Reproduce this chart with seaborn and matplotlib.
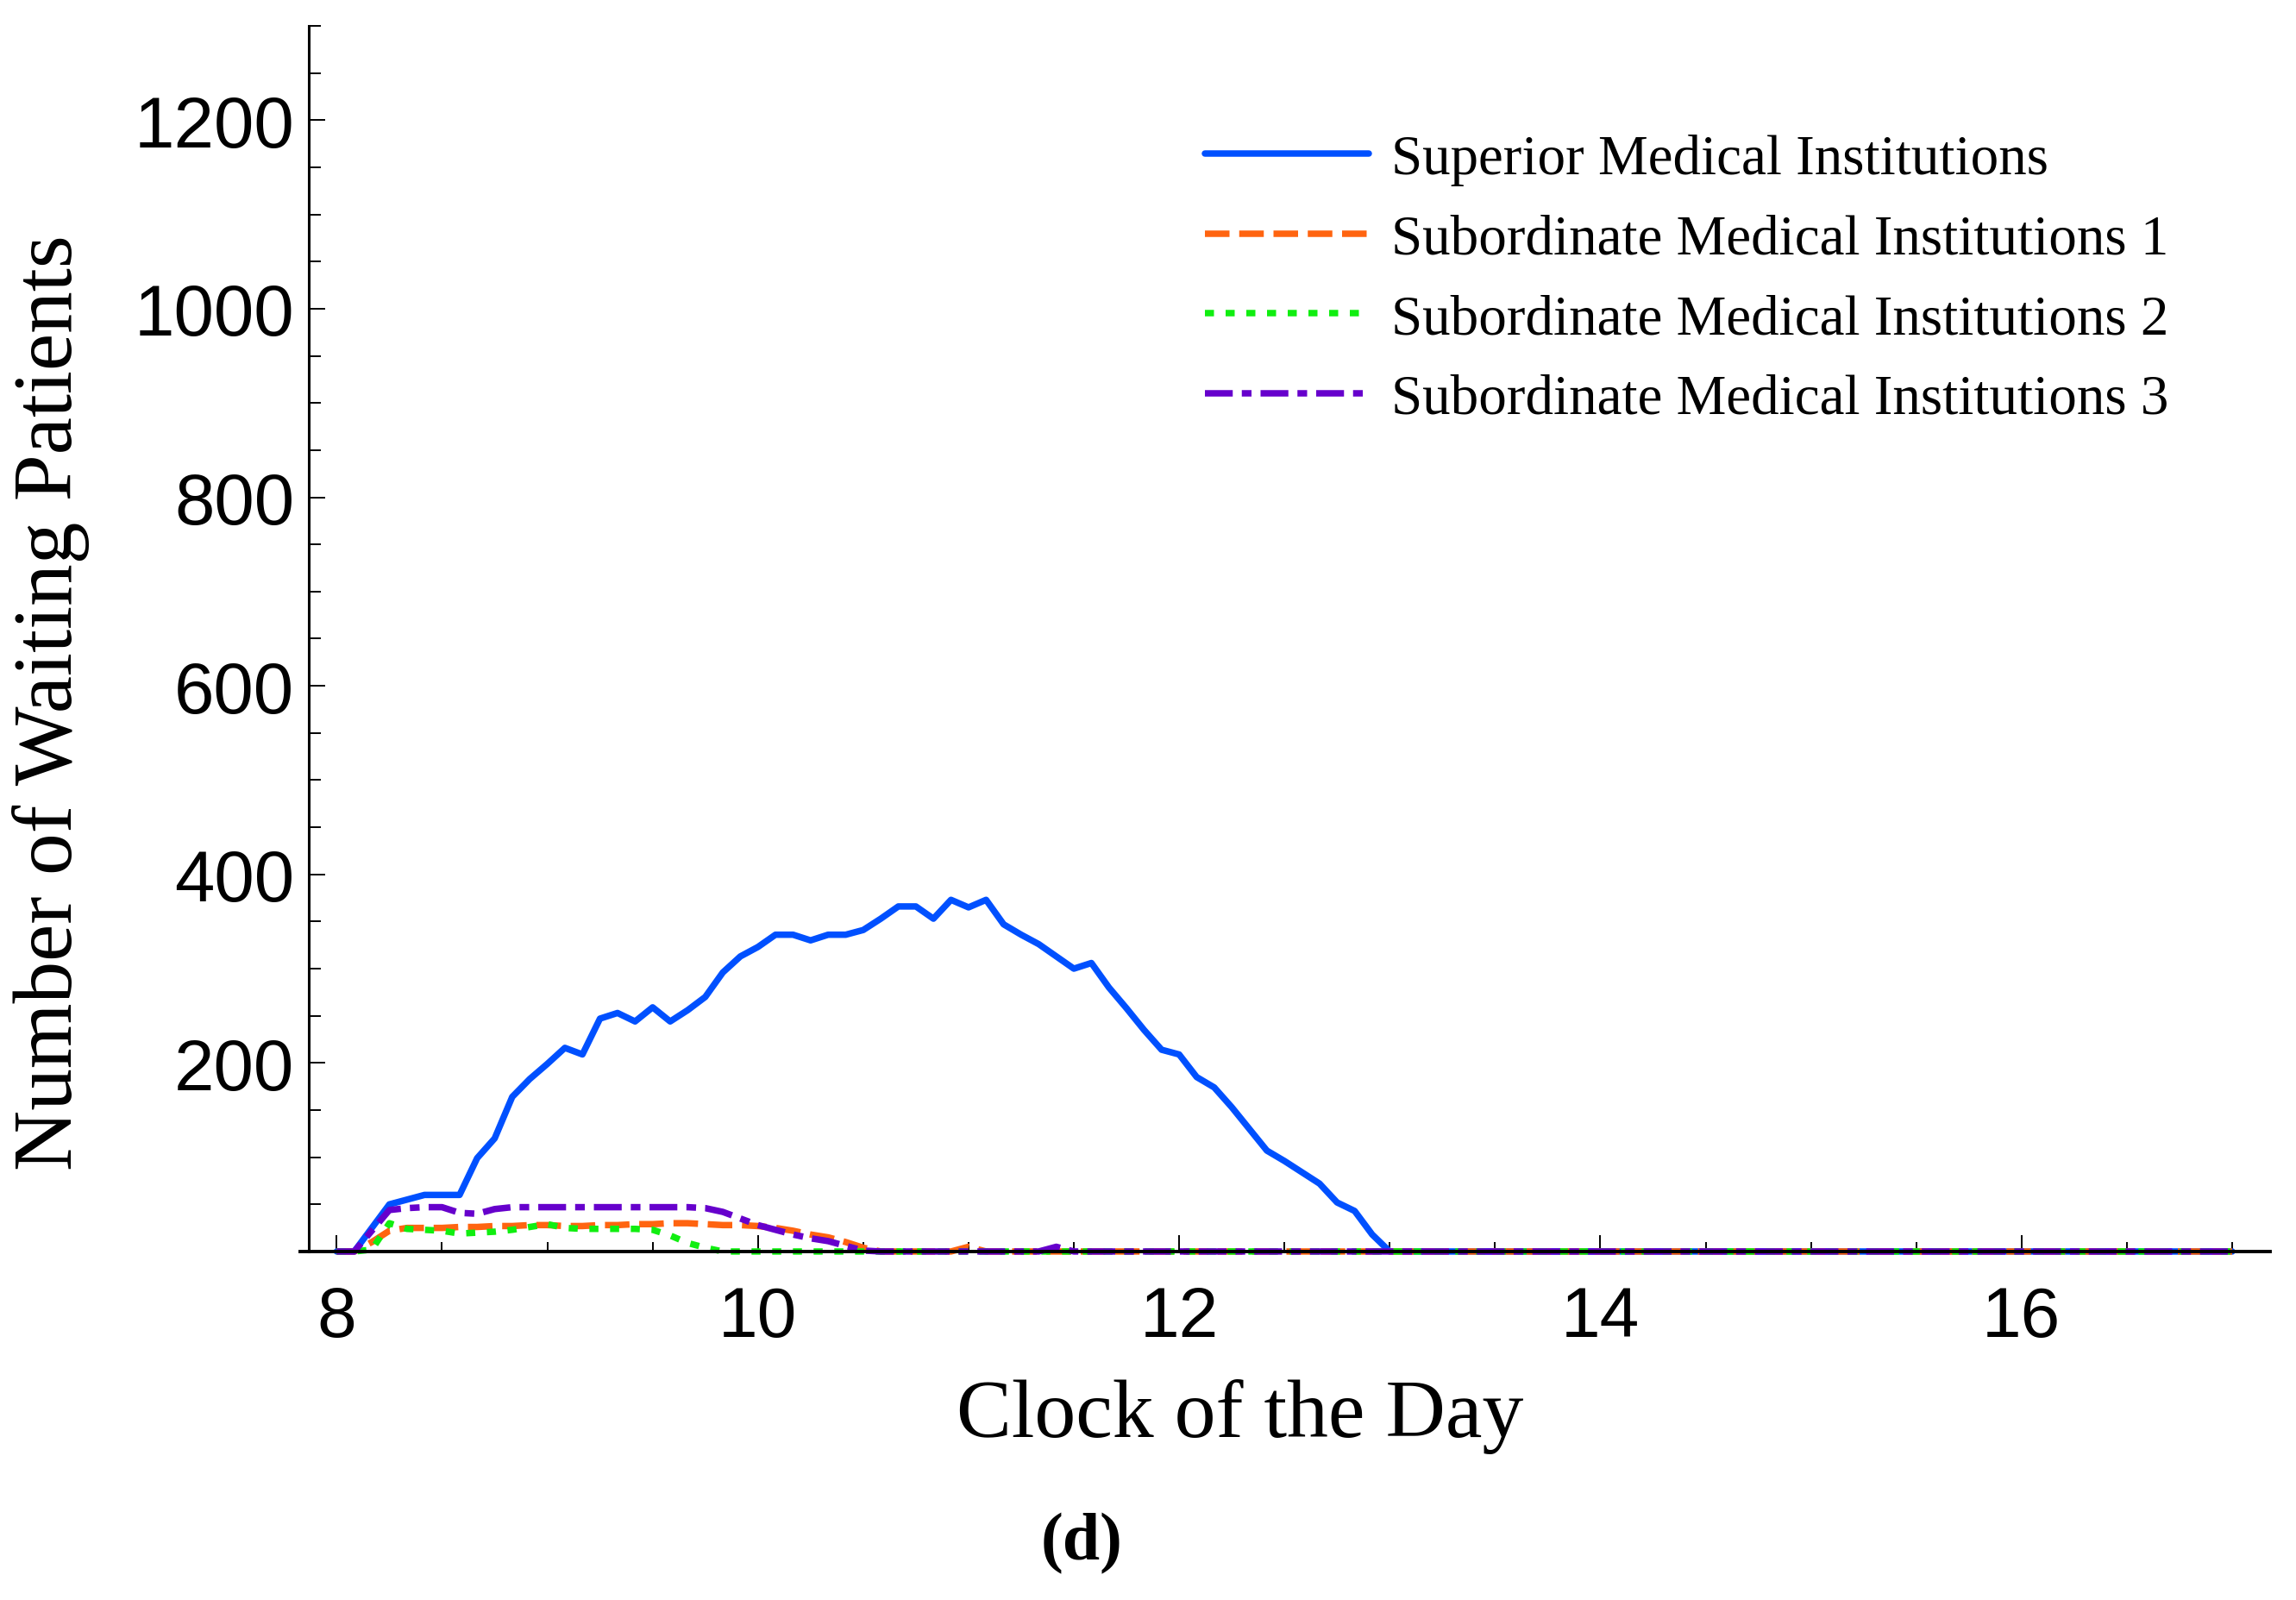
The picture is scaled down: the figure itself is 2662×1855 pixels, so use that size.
import matplotlib
matplotlib.use('Agg')
import matplotlib.pyplot as plt
from matplotlib.ticker import MultipleLocator
import seaborn as sns

# time grid: 8:00 to 13:00 every 5 minutes, then 17:00
minutes = list(range(0, 305, 5)) + [540]
clock = [8 + m / 60 for m in minutes]

superior = [0, 0, 25, 50, 55, 60, 60, 60, 99, 120,
            164, 183, 199, 216, 209, 247, 253, 244, 259, 244,
            256, 270, 296, 313, 323, 336, 336, 330, 336, 336,
            341, 353, 366, 366, 353, 373, 365, 373, 347, 336,
            326, 313, 300, 306, 280, 258, 235, 214, 209, 185,
            174, 153, 130, 107, 96, 84, 72, 52, 43, 18,
            0, 0]
sub1 = [0, 0, 10, 22, 25, 25, 25, 26, 26, 27,
        27, 28, 28, 27, 27, 28, 28, 29, 29, 30,
        30, 29, 28, 28, 27, 25, 22, 18, 15, 10,
        4, 0, 0, 0, 0, 0, 5, 0, 0, 0,
        0, 0, 0, 0, 0, 0, 0, 0, 0, 0,
        0, 0, 0, 0, 0, 0, 0, 0, 0, 0,
        0, 0]
sub2 = [0, 0, 2, 30, 24, 23, 22, 19, 20, 21,
        23, 26, 29, 25, 24, 24, 24, 24, 23, 17,
        9, 4, 0, 0, 0, 0, 0, 0, 0, 0,
        0, 0, 0, 0, 0, 0, 0, 0, 0, 0,
        0, 0, 0, 0, 0, 0, 0, 0, 0, 0,
        0, 0, 0, 0, 0, 0, 0, 0, 0, 0,
        0, 0]
sub3 = [0, 0, 22, 44, 46, 47, 47, 41, 40, 45,
        47, 47, 47, 47, 47, 47, 47, 47, 47, 47,
        47, 46, 42, 35, 28, 23, 18, 14, 11, 6,
        1, 0, 0, 0, 0, 0, 0, 0, 0, 0,
        0, 5, 0, 0, 0, 0, 0, 0, 0, 0,
        0, 0, 0, 0, 0, 0, 0, 0, 0, 0,
        0, 0]

names = ['Superior Medical Institutions',
         'Subordinate Medical Institutions 1',
         'Subordinate Medical Institutions 2',
         'Subordinate Medical Institutions 3']
colors = ['#0050ff', '#ff6410', '#10ee10', '#6600cc']
styles = ['-', (0, (3.8, 1.5)), (0, (1.4, 1.8)), (0, (4.3, 1.4, 1.5, 1.4))]

sns.set_theme(style='white')
plt.rcParams['font.family'] = ['Liberation Serif', 'DejaVu Serif']
plt.rcParams['text.color'] = 'black'
plt.rcParams['xtick.color'] = 'black'
plt.rcParams['ytick.color'] = 'black'

fig = plt.figure(figsize=(13.31, 9.28), dpi=200)
ax = fig.add_axes([0.1307, 0.2177, 0.858, 0.7656])

for vals, name, col, ls in zip([superior, sub1, sub2, sub3], names, colors, styles):
    sns.lineplot(x=clock, y=vals, ax=ax, color=col, linestyle=ls, linewidth=2.7,
                 label=name, estimator=None, errorbar=None, clip_on=False)

# axes in Mathematica style
ax.set_xlim(7.826, 17.18)
ax.set_ylim(0, 1300)
ax.spines['left'].set_position(('data', 7.867))
ax.spines['top'].set_visible(False)
ax.spines['right'].set_visible(False)
ax.spines['left'].set_color('black')
ax.spines['bottom'].set_color('black')
ax.spines['left'].set_linewidth(1.1)
ax.spines['bottom'].set_linewidth(1.4)

ax.set_xticks([8, 10, 12, 14, 16])
ax.xaxis.set_minor_locator(MultipleLocator(0.5))
ax.set_yticks(list(range(200, 1201, 200)))
ax.yaxis.set_minor_locator(MultipleLocator(50))
ax.tick_params(axis='x', which='major', direction='in', bottom=True, length=6.8, width=0.7,
               pad=14, labelsize=29.5)
ax.tick_params(axis='x', which='minor', direction='in', bottom=True, length=4, width=0.7)
ax.tick_params(axis='y', which='major', direction='in', left=True, length=6.8, width=0.7,
               pad=6, labelsize=30)
ax.tick_params(axis='y', which='minor', direction='in', left=True, length=5, width=0.7)
for lab in ax.get_xticklabels() + ax.get_yticklabels():
    lab.set_family('Liberation Sans')
ax.set_xlabel('')
ax.set_ylabel('')

ax.legend(loc='upper left', bbox_to_anchor=(0.5248, 0.916), bbox_transform=fig.transFigure,
          frameon=False, fontsize=23.4, handlelength=2.92, handletextpad=0.4,
          labelspacing=0.51, borderpad=0, borderaxespad=0)

fig.text(0.540, 0.1153, 'Clock of the Day', ha='center', va='center', fontsize=34.5)
fig.text(0.022, 0.561, 'Number of Waiting Patients', rotation=90, ha='center', va='center',
         fontsize=35)
fig.text(0.471, 0.036, '(d)', ha='center', va='center', fontsize=28, fontweight='bold')

fig.savefig('out.png', dpi=200)
